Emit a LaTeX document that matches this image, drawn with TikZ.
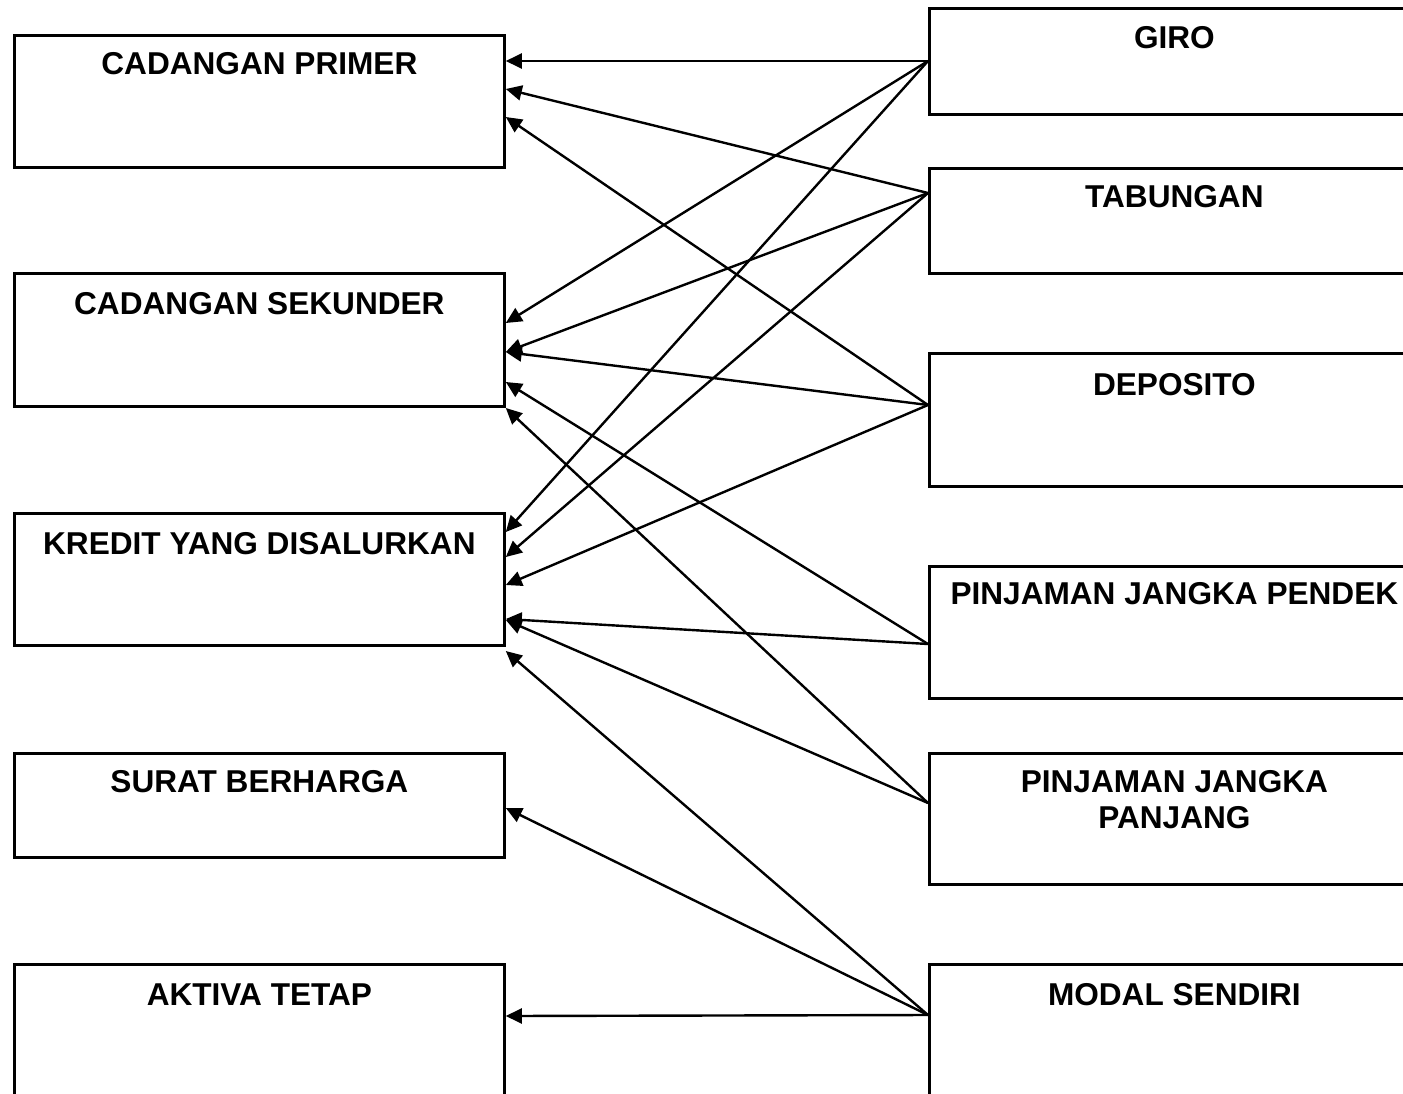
\documentclass[tikz,border=0pt]{standalone}
\usepackage{fontspec}
\setmainfont{Liberation Sans}
\usetikzlibrary{arrows.meta,calc}
\begin{document}
\begin{tikzpicture}[x=1pt,y=-1pt,
  box/.style={draw,line width=2.8pt,rectangle,minimum width=490pt,inner sep=0pt,anchor=north west},
  lbl/.style={font=\fontsize{31.6}{36}\selectfont\bfseries,inner sep=0pt,align=center},
  link/.style={line width=2.4pt,-{Triangle[length=16pt,width=15pt]}}]
\useasboundingbox (0,0) rectangle (1403,1093);
\clip (0,0) rectangle (1403,1093);
% left boxes
\node[box,minimum height=132pt] (cp) at (13,34) {};
\node[box,minimum height=133pt] (cs) at (13,272) {};
\node[box,minimum height=132pt] (kr) at (13,512) {};
\node[box,minimum height=104pt] (su) at (13,752) {};
\node[box,minimum height=132pt] (ak) at (13,963) {};
% right boxes
\node[box,minimum height=106pt] (giro) at (928,7) {};
\node[box,minimum height=105pt] (tab) at (928,167) {};
\node[box,minimum height=133pt] (dep) at (928,352) {};
\node[box,minimum height=132pt] (pjp) at (928,565) {};
\node[box,minimum height=131pt] (pjl) at (928,752) {};
\node[box,minimum height=132pt] (mod) at (928,963) {};
% labels
\node[lbl] (tcp) at ($(cp.north)+(0,30)$) {CADANGAN PRIMER};
\node[lbl] (tcs) at ($(cs.north)+(0,32)$) {CADANGAN SEKUNDER};
\node[lbl] (tkr) at ($(kr.north)+(0,32)$) {KREDIT YANG DISALURKAN};
\node[lbl] (tsu) at ($(su.north)+(0,30)$) {SURAT BERHARGA};
\node[lbl] (tak) at ($(ak.north)+(0,32)$) {AKTIVA TETAP};
\node[lbl] (tgiro) at ($(giro.north)+(0,31)$) {GIRO};
\node[lbl] (ttab) at ($(tab.north)+(0,30)$) {TABUNGAN};
\node[lbl] (tdep) at ($(dep.north)+(0,33)$) {DEPOSITO};
\node[lbl] (tpjp) at ($(pjp.north)+(0,29)$) {PINJAMAN JANGKA PENDEK};
\node[lbl] (tpjl) at ($(pjl.north)+(0,48)$) {PINJAMAN JANGKA\\PANJANG};
\node[lbl] (tmod) at ($(mod.north)+(0,32)$) {MODAL SENDIRI};
% source points
\coordinate (sgiro) at ($(giro.north west)+(0,54)$);
\coordinate (stab) at ($(tab.north west)+(0,26)$);
\coordinate (sdep) at ($(dep.north west)+(0,53)$);
\coordinate (spjp) at ($(pjp.north west)+(0,79)$);
\coordinate (spjl) at ($(pjl.north west)+(0,51)$);
\coordinate (smod) at ($(mod.north west)+(0,52)$);
% connectors
\draw[link] (sgiro) -- ($(cp.north east)+(0,27)$);
\draw[link] (sgiro) -- ($(cs.north east)+(0,51)$);
\draw[link] (sgiro) -- ($(kr.north east)+(0,20)$);
\draw[link] (stab) -- ($(cp.north east)+(0,55)$);
\draw[link] (stab) -- ($(cs.north east)+(0,80)$);
\draw[link] (stab) -- ($(kr.north east)+(0,45)$);
\draw[link] (sdep) -- ($(cp.north east)+(0,83)$);
\draw[link] (sdep) -- ($(cs.north east)+(0,80)$);
\draw[link] (sdep) -- ($(kr.north east)+(0,73)$);
\draw[link] (spjp) -- ($(cs.north east)+(0,110)$);
\draw[link] (spjp) -- ($(kr.north east)+(0,107)$);
\draw[link] (spjl) -- ($(cs.north east)+(0,136)$);
\draw[link] (spjl) -- ($(kr.north east)+(0,108)$);
\draw[link] (smod) -- ($(kr.north east)+(0,139)$);
\draw[link] (smod) -- ($(su.north east)+(0,56)$);
\draw[link] (smod) -- ($(ak.north east)+(0,53)$);
\end{tikzpicture}
\end{document}
